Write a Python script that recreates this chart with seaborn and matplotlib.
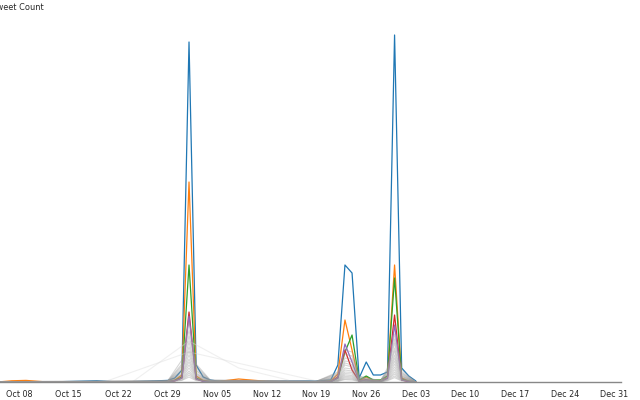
import pandas as pd
import matplotlib
matplotlib.use('Agg')
from matplotlib import pyplot as plt
import matplotlib.dates as mdates
import seaborn as sns

# shared dates for the five most active accounts
dates = ['2018-10-05', '2018-10-07', '2018-10-09', '2018-10-12', '2018-10-19', '2018-10-22',
         '2018-10-26', '2018-10-29', '2018-10-30', '2018-10-31', '2018-11-01', '2018-11-02',
         '2018-11-03', '2018-11-04', '2018-11-05', '2018-11-08', '2018-11-12', '2018-11-19',
         '2018-11-21', '2018-11-22', '2018-11-23', '2018-11-24', '2018-11-25', '2018-11-26',
         '2018-11-27', '2018-11-28', '2018-11-29', '2018-11-30', '2018-12-01', '2018-12-02',
         '2018-12-03']

blue = [0, 0, 0, 0, 6, 0, 4, 8, 20, 60, 1700, 85, 25, 10, 5, 4, 4, 5, 10, 85, 585, 545, 20, 100, 35, 35, 50, 1735, 70, 30, 5]
orange = [0, 6, 8, 0, 0, 0, 0, 3, 10, 35, 1000, 30, 8, 3, 2, 15, 3, 0, 5, 40, 310, 160, 5, 25, 8, 8, 30, 585, 20, 5, 0]
green = [0, 0, 0, 0, 0, 0, 0, 2, 8, 25, 585, 20, 5, 2, 0, 3, 0, 0, 3, 20, 150, 235, 10, 30, 10, 10, 30, 520, 15, 3, 0]
red = [0, 0, 0, 0, 0, 0, 0, 2, 6, 20, 350, 15, 4, 2, 0, 4, 0, 0, 2, 25, 160, 60, 5, 12, 5, 5, 20, 335, 10, 2, 0]
purple = [0, 0, 0, 0, 0, 0, 0, 2, 6, 20, 330, 15, 3, 1, 0, 2, 0, 0, 2, 20, 190, 100, 4, 10, 4, 4, 18, 285, 10, 2, 0]
top_names = ['user_1', 'user_2', 'user_3', 'user_4', 'user_5']
top_colors = ['#1f77b4', '#ff7f0e', '#2ca02c', '#d62728', '#9467bd']

# the rest of the accounts (grey)
grey_dates = ['2018-10-05', '2018-10-29', '2018-10-31', '2018-11-01', '2018-11-02', '2018-11-04',
              '2018-11-19', '2018-11-22', '2018-11-23', '2018-11-24', '2018-11-25', '2018-11-28',
              '2018-11-29', '2018-11-30', '2018-12-01', '2018-12-03']
grey_counts = [
    [2, 6, 110, 300, 90, 10, 4, 50, 160, 150, 30, 6, 70, 240, 60, 0],
    [0, 5, 90, 260, 80, 8, 3, 45, 140, 130, 25, 5, 60, 215, 50, 0],
    [2, 5, 80, 230, 70, 8, 5, 40, 120, 115, 22, 4, 55, 195, 45, 0],
    [0, 4, 70, 200, 60, 6, 3, 35, 105, 100, 20, 4, 50, 170, 40, 0],
    [0, 4, 60, 175, 55, 5, 2, 30, 95, 85, 18, 3, 45, 155, 35, 0],
    [1, 3, 55, 155, 45, 5, 2, 25, 85, 75, 15, 3, 40, 135, 30, 0],
    [0, 3, 45, 135, 40, 4, 2, 22, 70, 65, 12, 2, 35, 120, 28, 0],
    [0, 2, 40, 115, 35, 4, 1, 18, 60, 55, 10, 2, 30, 105, 24, 0],
    [0, 2, 35, 100, 30, 3, 1, 15, 50, 48, 8, 2, 25, 90, 20, 0],
    [0, 2, 28, 85, 25, 3, 1, 12, 42, 40, 7, 1, 22, 75, 18, 0],
    [0, 1, 22, 70, 20, 2, 1, 10, 35, 32, 6, 1, 18, 62, 14, 0],
    [0, 1, 18, 55, 16, 2, 0, 8, 28, 26, 5, 1, 14, 50, 12, 0],
    [0, 1, 14, 45, 12, 1, 0, 6, 22, 20, 4, 0, 12, 40, 10, 0],
    [0, 0, 10, 35, 10, 1, 0, 5, 16, 15, 3, 0, 9, 30, 8, 0],
    [0, 0, 8, 25, 7, 1, 0, 3, 12, 10, 2, 0, 6, 22, 5, 0],
]

# a few sparse accounts with gaps between posting days
faint_a_dates = ['2018-10-24', '2018-11-01', '2018-11-08', '2018-11-15']
faint_a = [0, 205, 70, 10]
faint_b_dates = ['2018-10-20', '2018-11-01', '2018-11-19']
faint_b = [0, 150, 5]

top_df = pd.concat([
    pd.DataFrame({'date': pd.to_datetime(dates), 'count': vals, 'user': name})
    for name, vals in zip(top_names, [blue, orange, green, red, purple])
])
grey_df = pd.concat([
    pd.DataFrame({'date': pd.to_datetime(grey_dates), 'count': vals, 'user': 'g%d' % i})
    for i, vals in enumerate(grey_counts)
])
faint_df = pd.concat([
    pd.DataFrame({'date': pd.to_datetime(faint_a_dates), 'count': faint_a, 'user': 'fa'}),
    pd.DataFrame({'date': pd.to_datetime(faint_b_dates), 'count': faint_b, 'user': 'fb'}),
])

sns.set_style('white')
fig = plt.figure(figsize=(6.4, 4), dpi=100)
ax = fig.add_axes([0, 0.045, 0.970, 0.905])

sns.lineplot(data=top_df, x='date', y='count', hue='user', palette=top_colors,
             estimator=None, legend=False, linewidth=0.9, ax=ax)
sns.lineplot(data=faint_df, x='date', y='count', units='user', estimator=None,
             color='#dddddd', alpha=0.45, linewidth=0.8, ax=ax)
sns.lineplot(data=grey_df, x='date', y='count', units='user', estimator=None,
             color='#999999', alpha=0.4, linewidth=0.8, ax=ax)

ax.set_xlim(pd.Timestamp('2018-10-05 08:00'), pd.Timestamp('2018-12-31 22:00'))
ax.set_ylim(0, 1810)
ax.set_xticks(pd.date_range('2018-10-08', '2018-12-31', freq='7D'))
ax.xaxis.set_major_formatter(mdates.DateFormatter('%b %d'))
ax.tick_params(axis='x', length=4, width=1, color='#888888', labelsize=5.8, pad=2)
ax.set_yticks([])
ax.set_xlabel('')
ax.set_ylabel('')
for side in ['top', 'right', 'left']:
    ax.spines[side].set_visible(False)
ax.spines['bottom'].set_color('#888888')
ax.spines['bottom'].set_linewidth(1)

# axis title, clipped at the left edge as in the original
fig.text(-7 / 640, 1 - 7 / 400, 'Tweet Count', fontsize=5.9, ha='left', va='center')

fig.savefig('out.png', dpi=100)
